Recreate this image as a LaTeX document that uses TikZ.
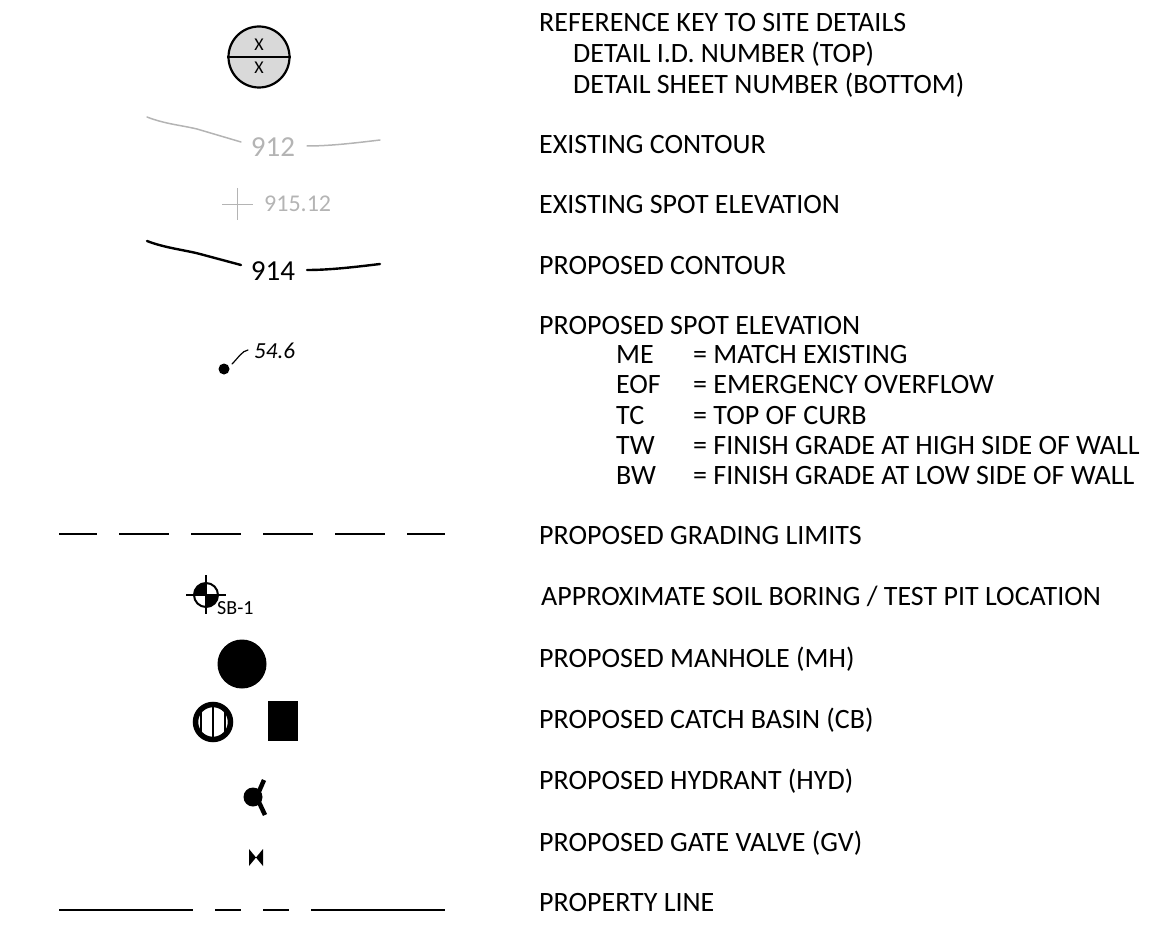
\documentclass[tikz,border=0pt]{standalone}
\usepackage{fontspec}
\setmainfont{Carlito}
\tikzset{
  x=1pt,y=-1pt,
  lbl/.style={anchor=base west,inner sep=0pt,font=\fontsize{28}{32}\selectfont,text=black},
  excont/.style={draw=exgray,line width=1.5pt,line cap=round},
  prcont/.style={draw=black,line width=2.4pt,line cap=round},
  limit/.style={draw=black,line width=1.5pt},
  propline/.style={draw=black,line width=2pt},
}
\definecolor{exgray}{HTML}{B4B4B4}
\definecolor{fillgray}{HTML}{D9D9D9}
\begin{document}
\begin{tikzpicture}
\useasboundingbox (0,0) rectangle (1176,947);
% key
\node[circle,draw=black,line width=2.2pt,fill=fillgray,minimum size=61pt,inner sep=0pt] (key) at (259,57) {};
\draw[line width=2.2pt] (key.west) -- (key.east);
\node[inner sep=0pt,font=\fontsize{18}{20}\selectfont] (keyt) at (259,45) {X};
\node[inner sep=0pt,font=\fontsize{18}{20}\selectfont] (keyb) at (259,68) {X};
% existing contour
\node[inner sep=0pt,text=exgray,font=\fontsize{29}{32}\selectfont] (c912) at (273,147) {912};
\draw[excont] (147,117) .. controls (165,124) and (180,125) .. (197,129) -- (241,142);
\draw[excont] (307,146) .. controls (330,146) and (355,143) .. (380,140);
% existing spot
\coordinate (sh0) at (222,204); \coordinate (sh1) at (253,204);
\coordinate (sv0) at (237,188); \coordinate (sv1) at (237,220);
\draw[draw=exgray,line width=1pt] (sh0) -- (sh1) (sv0) -- (sv1);
\node[anchor=west,inner sep=0pt,text=exgray,font=\fontsize{24}{26}\selectfont] (s915) at (264,204) {915.12};
% proposed contour
\node[inner sep=0pt,font=\fontsize{29}{32}\selectfont] (c914) at (273,271) {914};
\draw[prcont] (147,241) .. controls (165,248) and (185,250) .. (200,254) -- (241,265);
\draw[prcont] (307,270) .. controls (330,270) and (355,267) .. (380,264);
% proposed spot
\node[circle,fill=black,minimum size=11pt,inner sep=0pt] (dot) at (224,369) {};
\node[anchor=west,inner sep=0pt,font=\fontsize{23}{26}\selectfont\itshape] (s546) at (254,351) {54.6};
\draw[line width=1.2pt,line cap=round] (232,364) .. controls (239,357) and (242,351) .. (248,350);
% grading limits
\draw[limit] (59,534) -- (97,534) (119,534) -- (169,534) (191,534) -- (241,534) (263,534) -- (313,534) (335,534) -- (385,534) (407,534) -- (445,534);
% soil boring
\fill (206,595) -- (218,595) arc[start angle=0,end angle=90,radius=12] -- cycle;
\fill (206,595) -- (194,595) arc[start angle=180,end angle=270,radius=12] -- cycle;
\node[circle,draw=black,line width=2pt,minimum size=24pt,inner sep=0pt] (sb) at (206,595) {};
\draw[line width=2pt] (186,595) -- (226,595) (206,575) -- (206,614);
\node[anchor=base west,inner sep=0pt,font=\fontsize{20}{22}\selectfont] (sbt) at (217,614) {SB-1};
% manhole
\node[circle,fill=black,minimum size=49pt,inner sep=0pt] (mh) at (242,664) {};
% catch basin
\node[circle,draw=black,line width=5.5pt,minimum size=35pt,inner sep=0pt] (cb) at (213,722) {};
\draw[line width=1.6pt] (201,708) -- (201,736) (213,704) -- (213,740) (225,708) -- (225,736);
\fill (268,701) rectangle (298,741);
% hydrant
\node[circle,fill=black,minimum size=19pt,inner sep=0pt] (hyd) at (253,797) {};
\draw[line width=4.5pt] (257,796) -- (264,780) (257,798) -- (265,815);
% gate valve
\fill (249,849) -- (256,857.5) -- (263,849) -- (263,866) -- (256,857.5) -- (249,866) -- cycle;
% property line
\draw[propline] (59,910) -- (193,910) (215,910) -- (241,910) (263,910) -- (289,910) (311,910) -- (445,910);
% text
\node[lbl] (t1) at (539,32) {REFERENCE KEY TO SITE DETAILS};
\node[lbl] (t2) at (573,63) {DETAIL I.D. NUMBER (TOP)};
\node[lbl] (t3) at (573,94) {DETAIL SHEET NUMBER (BOTTOM)};
\node[lbl] (t4) at (539,154) {EXISTING CONTOUR};
\node[lbl] (t5) at (539,214) {EXISTING SPOT ELEVATION};
\node[lbl] (t6) at (539,274) {PROPOSED CONTOUR};
\node[lbl] (t7) at (539,334) {PROPOSED SPOT ELEVATION};
\node[lbl] (a1) at (616,363.5) {ME};
\node[lbl] (a2) at (616,393.5) {EOF};
\node[lbl] (a3) at (616,424) {TC};
\node[lbl] (a4) at (616,454) {TW};
\node[lbl] (a5) at (616,484) {BW};
\node[lbl] (b1) at (693,363.5) {= MATCH EXISTING};
\node[lbl] (b2) at (693,393.5) {= EMERGENCY OVERFLOW};
\node[lbl] (b3) at (693,424) {= TOP OF CURB};
\node[lbl] (b4) at (693,454) {= FINISH GRADE AT HIGH SIDE OF WALL};
\node[lbl] (b5) at (693,484) {= FINISH GRADE AT LOW SIDE OF WALL};
\node[lbl] (t8) at (539,544) {PROPOSED GRADING LIMITS};
\node[lbl] (t9) at (541,605.5) {APPROXIMATE SOIL BORING / TEST PIT LOCATION};
\node[lbl] (t10) at (539,667.5) {PROPOSED MANHOLE (MH)};
\node[lbl] (t11) at (539,728.5) {PROPOSED CATCH BASIN (CB)};
\node[lbl] (t12) at (539,789.5) {PROPOSED HYDRANT (HYD)};
\node[lbl] (t13) at (539,851.5) {PROPOSED GATE VALVE (GV)};
\node[lbl] (t14) at (539,911.5) {PROPERTY LINE};
\end{tikzpicture}
\end{document}
